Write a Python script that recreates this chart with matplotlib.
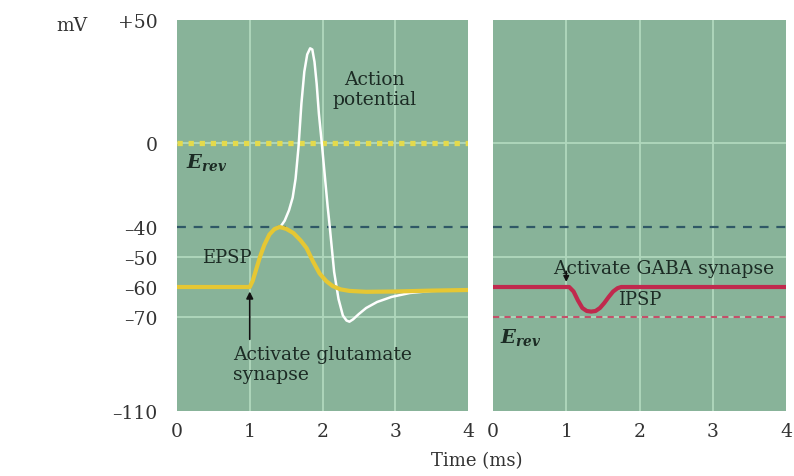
import numpy as np
import matplotlib
matplotlib.use("Agg")
import matplotlib.pyplot as plt

# ..............................................................................
plt.rcParams["font.family"] = ["DejaVu Serif"]
plt.rcParams["mathtext.fontset"] = "custom"
plt.rcParams["mathtext.it"] = "DejaVu Serif:italic:bold"
plt.rcParams["mathtext.rm"] = "DejaVu Serif:bold"

# ==============================================================================
# data (time in ms, potential in mV)
epspT = [0, 1.0, 1.04, 1.09, 1.14, 1.2, 1.27, 1.34, 1.41, 1.5, 1.6, 1.7, 1.78,
         1.87, 1.96, 2.05, 2.14, 2.25, 2.37, 2.6, 3.0, 3.5, 4.0]
epspV = [-60, -60, -58, -54, -50, -46, -42.5, -40.7, -40, -40.6, -42, -44.5, -47,
         -51.5, -55.5, -58, -59.7, -60.8, -61.3, -61.6, -61.5, -61.2, -61]

apT = [1.42, 1.48, 1.54, 1.59, 1.63, 1.67, 1.71, 1.75, 1.79, 1.83, 1.86, 1.89,
       1.92, 1.95, 1.99, 2.03, 2.07, 2.1, 2.16, 2.22, 2.28, 2.33, 2.37, 2.42,
       2.5, 2.6, 2.75, 2.95, 3.2, 3.5, 4.0]
apV = [-40, -37, -32, -26, -17, -2, 16, 29, 36, 38.5, 38, 33,
       24, 12, 0, -15, -30, -40, -55, -64, -69.5, -71.5, -72, -71,
       -69, -67, -65, -63.3, -62, -61.3, -61]

ipspT = [0, 1.04, 1.1, 1.16, 1.22, 1.28, 1.34, 1.4, 1.46, 1.52, 1.58, 1.64, 1.7, 1.75, 4.0]
ipspV = [-60, -60, -61.5, -64.5, -67, -68, -68.2, -68, -67, -65.3, -63.3, -61.5, -60.4, -60, -60]

eRevExc = 0
eRevInh = -70
threshold = -40

yTicks = [50, 0, -40, -50, -60, -70, -110]
yTickLabels = ["+50", "0", "\u201340", "\u201350", "\u201360", "\u201370", "\u2013110"]
xTicks = [0, 1, 2, 3, 4]

# ------------------------------------------------------------------------------
# the drawing has a stretched voltage axis: piecewise linear between these knots
knotV = np.array([-110, -70, -40, 0, 50], dtype=float)
knotP = np.array([0, 94, 184, 268, 391], dtype=float)

def fwd(v):
    v = np.asarray(v, dtype=float)
    out = np.interp(v, knotV, knotP)
    lo = v < knotV[0]
    hi = v > knotV[-1]
    out[lo] = knotP[0] + (v[lo] - knotV[0]) * (knotP[1] - knotP[0]) / (knotV[1] - knotV[0])
    out[hi] = knotP[-1] + (v[hi] - knotV[-1]) * (knotP[-1] - knotP[-2]) / (knotV[-1] - knotV[-2])
    return out

def inv(p):
    p = np.asarray(p, dtype=float)
    out = np.interp(p, knotP, knotV)
    lo = p < knotP[0]
    hi = p > knotP[-1]
    out[lo] = knotV[0] + (p[lo] - knotP[0]) * (knotV[1] - knotV[0]) / (knotP[1] - knotP[0])
    out[hi] = knotV[-1] + (p[hi] - knotP[-1]) * (knotV[-1] - knotV[-2]) / (knotP[-1] - knotP[-2])
    return out

# ==============================================================================
bg = "#88b399"
gridC = "#b0d8bd"
textC = "#1c2b24"
yellow = "#e6c733"
dotYellow = "#e4da4c"
dashBlue = "#2f5866"
red = "#c0294d"
dashRed = "#c4506a"

fig = plt.figure(figsize=(7.94, 4.77), dpi=100)
axL = fig.add_axes([177 / 794, 65 / 477, 291 / 794, 391 / 477])
axR = fig.add_axes([493 / 794, 65 / 477, 293 / 794, 391 / 477])

for ax in (axL, axR):
    ax.set_yscale("function", functions=(fwd, inv))
    ax.set_xlim(0, 4)
    ax.set_ylim(-110, 50)
    ax.set_facecolor(bg)
    for s in ax.spines.values():
        s.set_visible(False)
    ax.set_xticks(xTicks)
    ax.set_yticks(yTicks)
    ax.yaxis.set_minor_locator(matplotlib.ticker.NullLocator())
    ax.tick_params(length=0, labelsize=13.5, labelcolor="#333333", pad=8)
    for t in xTicks[1:-1]:
        ax.axvline(t, color=gridC, lw=1.3, zorder=1)
    for v in [0, -50, -70]:
        ax.axhline(v, color=gridC, lw=1.3, zorder=1)
    ax.axhline(threshold, color=dashBlue, lw=1.6, dashes=(4, 3.5), zorder=2)

axL.set_yticklabels(yTickLabels)
axL.tick_params(axis="y", pad=14)
axR.set_yticklabels([])

# ------------------------------------------------------------------------------
# left: excitatory synapse
axL.axhline(eRevExc, color=dotYellow, lw=3.8, dashes=(1.0, 1.1), zorder=2)
axL.plot(apT, apV, color="white", lw=1.8, zorder=3, solid_capstyle="round")
axL.plot(epspT, epspV, color=yellow, lw=3.0, zorder=4, solid_capstyle="round")

axL.text(0.13, -9, r"$E_{rev}$", fontsize=14, color=textC, ha="left", va="center")
axL.text(0.68, -50, "EPSP", fontsize=13, color=textC, ha="center", va="center")
axL.text(2.72, 22, "Action\npotential", fontsize=13.5, color=textC,
         ha="center", va="center", linespacing=1.1)
axL.annotate("", xy=(1.0, -61.5), xytext=(1.0, -79.5),
             arrowprops=dict(arrowstyle="-|>", color="#111111", lw=1.2,
                             mutation_scale=10, shrinkA=0, shrinkB=0), zorder=5)
axL.text(0.77, -90, "Activate glutamate\nsynapse", fontsize=13.5, color=textC,
         ha="left", va="center", linespacing=1.2)

# ------------------------------------------------------------------------------
# right: inhibitory synapse
axR.axhline(eRevInh, color=dashRed, lw=1.5, dashes=(3, 2.5), zorder=2)
axR.plot(ipspT, ipspV, color=red, lw=3.0, zorder=4, solid_capstyle="round")

axR.text(0.1, -78.5, r"$E_{rev}$", fontsize=14, color=textC, ha="left", va="center")
axR.text(2.33, -53.5, "Activate GABA synapse", fontsize=13.5, color=textC,
         ha="center", va="center")
axR.annotate("", xy=(1.0, -58.3), xytext=(1.0, -54.8),
             arrowprops=dict(arrowstyle="-|>", color="#111111", lw=1.2,
                             mutation_scale=8, shrinkA=0, shrinkB=0), zorder=5)
axR.text(2.0, -64, "IPSP", fontsize=13, color=textC, ha="center", va="center")

# ------------------------------------------------------------------------------
fig.text(72 / 794, 1 - 26 / 477, "mV", fontsize=13.5, color="#333333", ha="center", va="center")
fig.text(477 / 794, 16 / 477, "Time (ms)", fontsize=13, color="#333333", ha="center", va="center")

fig.savefig("out.png", dpi=100, facecolor="white")
